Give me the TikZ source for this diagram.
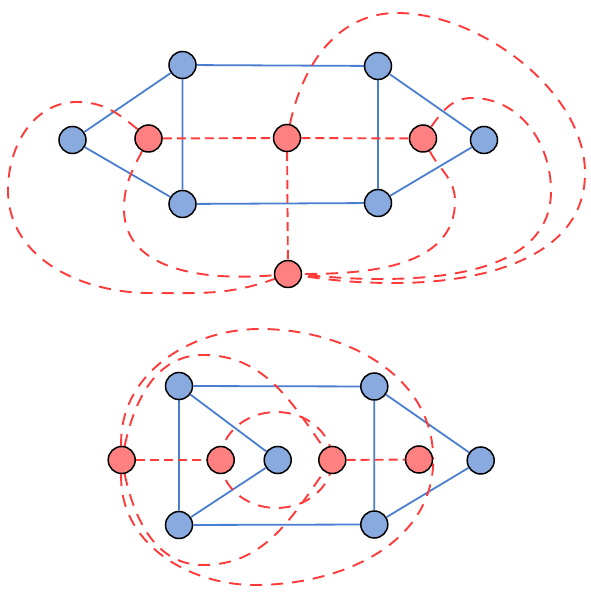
\documentclass[tikz,border=0pt]{standalone}
\usetikzlibrary{backgrounds}
\definecolor{bfill}{HTML}{88AADF}
\definecolor{rfill}{HTML}{FF8080}
\definecolor{bline}{HTML}{4A7ED0}
\definecolor{rline}{HTML}{FF3A3A}
\tikzset{
  vtx/.style={circle,draw=black,line width=1.5pt,minimum size=27pt,inner sep=0pt},
  bv/.style={vtx,fill=bfill},
  rv/.style={vtx,fill=rfill},
  prim/.style={draw=bline,line width=1.8pt},
  dual/.style={draw=rline,line width=1.9pt,dash pattern=on 9pt off 5pt},
  dualc/.style={draw=rline,line width=1.9pt,dash pattern=on 12pt off 9pt},
}
\begin{document}
\begin{tikzpicture}[x=1pt,y=1pt]
\useasboundingbox (0,0) rectangle (590,599);
% ---------- top graph ----------
\node[bv] (BL)  at (72.5,459) {};
\node[bv] (BTL) at (182.5,534) {};
\node[bv] (BBL) at (182.5,395) {};
\node[bv] (BTR) at (378,533) {};
\node[bv] (BBR) at (378,396) {};
\node[bv] (BR)  at (484,459) {};
\node[rv] (R1) at (148.5,460.5) {};
\node[rv] (R2) at (287,461) {};
\node[rv] (R3) at (423,460.5) {};
\node[rv] (R4) at (288,325) {};
\coordinate (A1) at (397,586);
\coordinate (A2) at (585,426);
\coordinate (A3) at (395,316);
\coordinate (B1) at (472,501);
\coordinate (B2) at (551,408);
\coordinate (B3) at (380,320);
\coordinate (C1) at (455,398);
\coordinate (D1) at (77,497);
\coordinate (D2) at (8,409);
\coordinate (D3) at (150,306);
\coordinate (E1) at (124,390);
% ---------- bottom graph ----------
\node[bv] (bTL) at (179,213) {};
\node[bv] (bBL) at (179,74) {};
\node[bv] (bM)  at (277.7,139) {};
\node[bv] (bTR) at (374.3,212.5) {};
\node[bv] (bBR) at (374.3,74.5) {};
\node[bv] (bR)  at (480.7,138.5) {};
\node[rv] (RA) at (121.7,139) {};
\node[rv] (RB) at (220.7,139) {};
\node[rv] (RC) at (332.3,139) {};
\node[rv] (RD) at (419,139.5) {};
\coordinate (T1) at (203,244);
\coordinate (T2) at (260,270);
\coordinate (U1) at (203,34);
\coordinate (U2) at (255,14);
\begin{pgfonlayer}{background}
% primal edges top
\draw[prim] (BL) -- (BTL) (BL) -- (BBL) (BTL) -- (BTR) (BTL) -- (BBL)
  (BBL) -- (BBR) (BTR) -- (BBR) (BTR) -- (BR) (BBR) -- (BR);
% dual edges top
\draw[dual] (R1) -- (R2);
\draw[dual] (R2) -- (R3);
\draw[dual] (R2) -- (R4);
\draw[dualc] (R2) to[out=78,in=180] (A1) to[out=0,in=90,looseness=0.85] (A2)
  to[out=-90,in=0] (A3) to[out=180,in=-8] (R4);
\draw[dualc] (R3) to[out=55,in=180] (B1) to[out=0,in=90] (B2)
  to[out=-90,in=0] (B3) to[out=180,in=-4] (R4);
\draw[dualc] (R3) to[out=-62,in=90] (C1) to[out=-90,in=0] (R4);
\draw[dualc] (R1) to[out=140,in=0] (D1) to[out=180,in=90] (D2)
  to[out=-90,in=180] (D3) to[out=0,in=200] (R4);
\draw[dualc] (R1) to[out=-117,in=90] (E1) to[out=-90,in=185] (R4);
% primal edges bottom
\draw[prim] (bTL) -- (bTR) (bTL) -- (bBL) (bTL) -- (bM) (bBL) -- (bM)
  (bBL) -- (bBR) (bTR) -- (bBR) (bTR) -- (bR) (bBR) -- (bR);
% dual edges bottom
\draw[dual] (RA) -- (RB);
\draw[dual] (RC) -- (RD);
\draw[dualc] (RB.center) arc[start angle=180,end angle=0,x radius=55.8,y radius=48];
\draw[dualc] (RB.center) arc[start angle=180,end angle=360,x radius=55.8,y radius=48];
\draw[dualc] (RA) to[out=78,in=180] (T1) to[out=0,in=125] (RC);
\draw[dualc] (RA) to[out=-78,in=180] (U1) to[out=0,in=-125] (RC);
\draw[dualc] (RA) to[out=92,in=180] (T2) to[out=0,in=90] (RD.east);
\draw[dualc] (RA) to[out=-92,in=180] (U2) to[out=0,in=-90] (RD.east);
\end{pgfonlayer}
\end{tikzpicture}
\end{document}
